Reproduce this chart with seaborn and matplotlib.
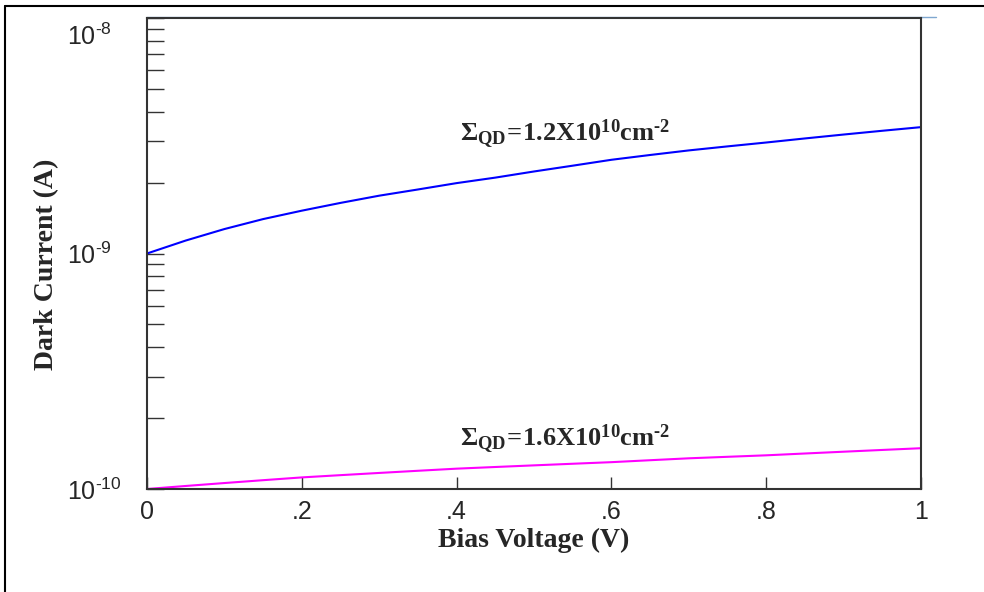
import matplotlib
matplotlib.use("Agg")
import matplotlib.pyplot as plt
import seaborn as sns
import numpy as np
import pandas as pd
from matplotlib.ticker import FixedLocator, FixedFormatter, LogLocator, NullFormatter
from matplotlib.lines import Line2D

bias_v = [0.0, 0.05, 0.1, 0.15, 0.2, 0.25, 0.3, 0.35, 0.4, 0.45, 0.5,
          0.55, 0.6, 0.65, 0.7, 0.75, 0.8, 0.85, 0.9, 0.95, 1.0]
current_12 = [1.00e-9, 1.135e-9, 1.27e-9, 1.40e-9, 1.52e-9, 1.64e-9, 1.76e-9, 1.87e-9,
              1.99e-9, 2.10e-9, 2.23e-9, 2.36e-9, 2.50e-9, 2.62e-9, 2.74e-9, 2.85e-9,
              2.96e-9, 3.08e-9, 3.20e-9, 3.32e-9, 3.44e-9]
current_16 = [1.00e-10, 1.03e-10, 1.06e-10, 1.09e-10, 1.12e-10, 1.145e-10, 1.17e-10,
              1.195e-10, 1.22e-10, 1.24e-10, 1.26e-10, 1.28e-10, 1.30e-10, 1.325e-10,
              1.35e-10, 1.37e-10, 1.39e-10, 1.415e-10, 1.44e-10, 1.465e-10, 1.49e-10]
x_ticks = [0, 0.2, 0.4, 0.6, 0.8, 1.0]
x_ticklabels = ["0", ".2", ".4", ".6", ".8", "1"]
y_ticks = [1e-10, 1e-9, 1e-8]
y_ticklabels = ["$\\mathsf{10^{\u00ad10}}$", "$\\mathsf{10^{\u00ad9}}$", ""]
y_top_label = "$\\mathsf{10^{\u00ad8}}$"
label_12 = r"$\mathbf{\Sigma_{QD}\!=\!1.2X10^{10}cm^{\text{-2}}}$"
label_16 = r"$\mathbf{\Sigma_{QD}\!=\!1.6X10^{10}cm^{\text{-2}}}$"

sns.set_style("ticks")
plt.rcParams["font.family"] = ["Liberation Sans", "DejaVu Sans"]
plt.rcParams["mathtext.fontset"] = "custom"
plt.rcParams["mathtext.rm"] = "Liberation Serif:bold"
plt.rcParams["mathtext.it"] = "Liberation Serif:bold"
plt.rcParams["mathtext.bf"] = "Liberation Serif:bold"
plt.rcParams["mathtext.sf"] = "Liberation Sans"

df = pd.DataFrame({
    "V": bias_v * 2,
    "I": current_12 + current_16,
    "s": ["a"] * len(bias_v) + ["b"] * len(bias_v),
})

fig = plt.figure(figsize=(9.84, 5.92), dpi=100)
ax = fig.add_axes([147/984, 1-489/592, (921-147)/984, (489-18)/592])
sns.lineplot(data=df, x="V", y="I", hue="s", palette={"a": "#0000ff", "b": "#ff00ff"},
             legend=False, ax=ax, linewidth=1.5)
ax.set_yscale("log")
ax.set_xlim(0, 1)
ax.set_ylim(1e-10, 1e-8)

ax.xaxis.set_major_locator(FixedLocator(x_ticks))
ax.xaxis.set_major_formatter(FixedFormatter(x_ticklabels))
ax.yaxis.set_major_locator(FixedLocator(y_ticks))
ax.yaxis.set_major_formatter(FixedFormatter(y_ticklabels))
ax.yaxis.set_minor_locator(LogLocator(base=10, subs=np.arange(2, 10)))
ax.yaxis.set_minor_formatter(NullFormatter())

ax.tick_params(axis="x", direction="in", length=8.6, width=1.0, color="#333333",
               labelsize=18, pad=8)
ax.tick_params(axis="y", which="both", direction="in", length=12.2, width=1.0,
               color="#333333", labelsize=18, pad=57.6)
for lab in ax.get_yticklabels():
    lab.set_horizontalalignment("left")
for sp in ax.spines.values():
    sp.set_visible(True)
    sp.set_linewidth(1.5)
    sp.set_color("#333333")

fig.text(67/984, 1-45/592, y_top_label, fontsize=18, ha="left", va="baseline")

ax.set_xlabel("Bias Voltage (V)", fontfamily="Liberation Serif", fontweight="bold",
              fontsize=20, labelpad=3)
ax.set_ylabel("Dark Current (A)", fontfamily="Liberation Serif", fontweight="bold",
              fontsize=20, labelpad=6)
ax.yaxis.label.set_y(0.478)

ax.text(0.54, 0.755, label_12, fontsize=19, ha="center", va="center", transform=ax.transAxes)
ax.text(0.54, 0.106, label_16, fontsize=19, ha="center", va="center", transform=ax.transAxes)

# light top line artifact extending past the frame
ax.add_artist(Line2D([0, (936-147)/774], [1.003, 1.003], transform=ax.transAxes,
                     color="#7fa7d0", linewidth=1.0, clip_on=False))

# outer frame
fig.add_artist(Line2D([5/984, 5/984], [0, 1-6/592], transform=fig.transFigure,
                      color="black", linewidth=1.5))
fig.add_artist(Line2D([5/984, 1], [1-6/592, 1-6/592], transform=fig.transFigure,
                      color="black", linewidth=1.5))

fig.savefig("out.png", dpi=100, facecolor="white")
